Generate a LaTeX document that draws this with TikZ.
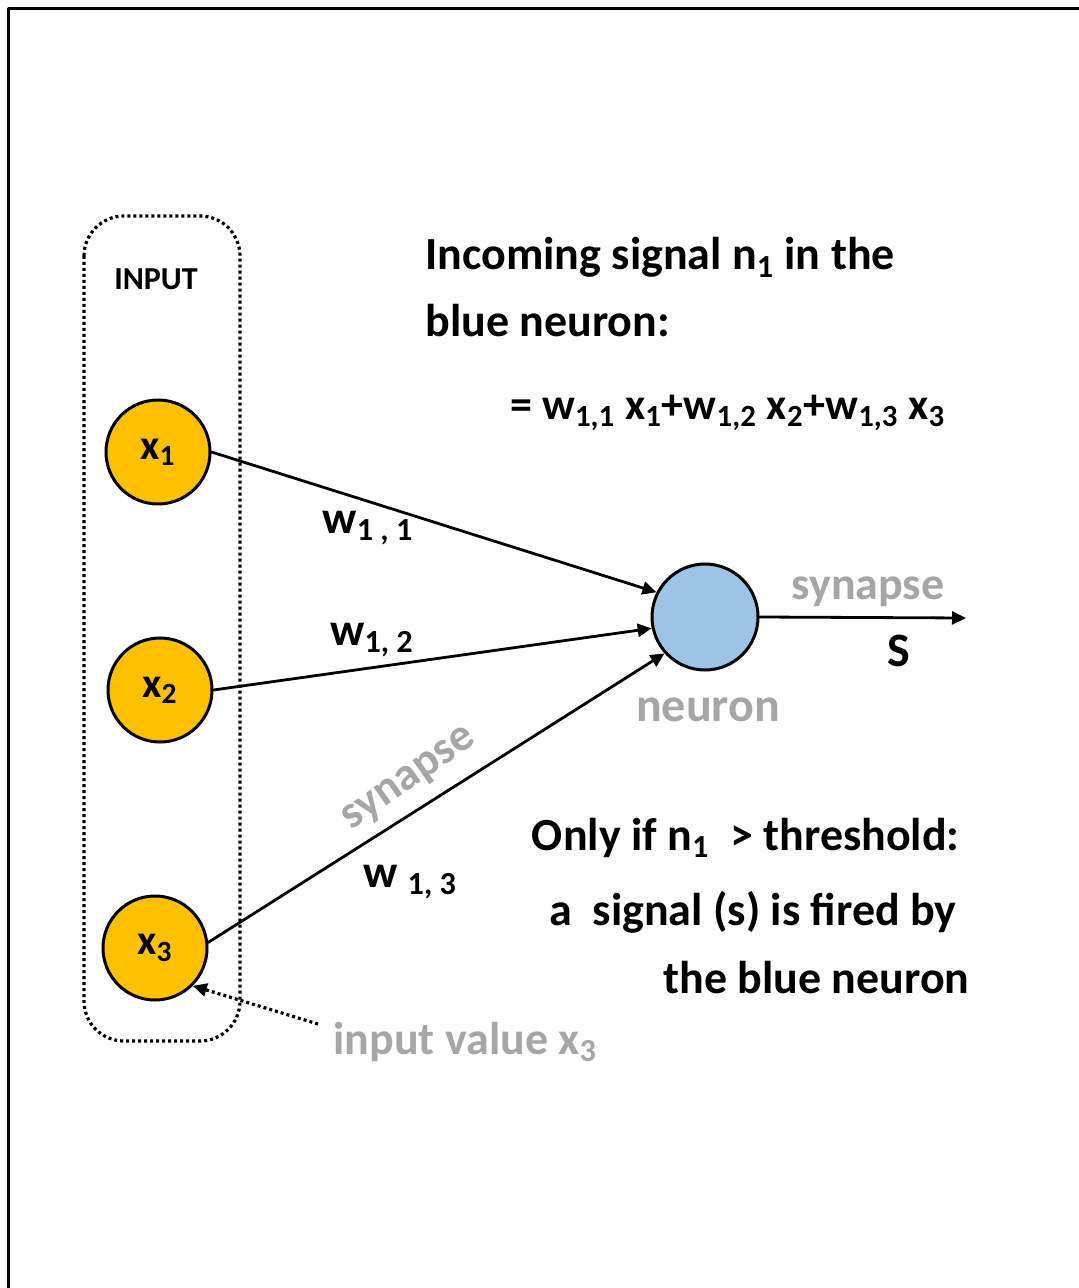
\documentclass[tikz,border=0pt]{standalone}
\usepackage{fontspec}
\setmainfont{Carlito}
\usetikzlibrary{arrows.meta}
\definecolor{inorange}{HTML}{FFC000}
\definecolor{neublue}{HTML}{9DC3E6}
\definecolor{softgray}{HTML}{A6A6A6}
\begin{document}
\begin{tikzpicture}[x=0.5pt,y=-0.5pt,line cap=round,line join=round,>={Triangle[length=7pt,width=6.5pt]},
	inp/.style={circle,draw,line width=1.5pt,fill=inorange,minimum size=52pt,inner sep=0pt,font=\fontsize{21}{25}\selectfont\bfseries},
	neu/.style={circle,draw,line width=1.5pt,fill=neublue,minimum size=53pt,inner sep=0pt},
	syn/.style={line width=1.4pt,->},
	dots/.style={line width=1.6pt,line cap=butt,dash pattern=on 1.5pt off 1.5pt},
	big/.style={font=\fontsize{23}{28}\selectfont\bfseries,inner sep=0pt},
	wt/.style={font=\fontsize{23}{28}\selectfont\bfseries,inner sep=0pt},
	gr/.style={text=softgray,font=\fontsize{23}{28}\selectfont\bfseries,inner sep=0pt}]
	\useasboundingbox (0,0) rectangle (1078,1288);
	\draw[line width=1.5pt,line cap=butt] (8,1300)--(8,9)--(1090,9);
	\draw[dots,rounded corners=20pt] (84,216) rectangle (240,1041);
	\node[font=\fontsize{16}{19}\selectfont\bfseries] (inlabel) at (156,279) {INPUT};
	\node[inp] (x1) at (158,452) {x\textsubscript{1}};
	\node[inp] (x2) at (160,690) {x\textsubscript{2}};
	\node[inp] (x3) at (155,948) {x\textsubscript{3}};
	\node[neu] (neuron) at (705,617) {};
	\coordinate (out) at (966,618);
	\coordinate (ivtail) at (318,1024);
	\draw[syn] (x1.east)--(neuron.153);
	\draw[syn] (x2.east)--(neuron.192);
	\draw[syn] (x3.6)--(neuron.222);
	\draw[syn] (neuron.east)--(out);
	\draw[dots,->] (ivtail)--(x3.-45);
	\node[wt] (w11) at (368,528) {w\textsubscript{1 , 1}};
	\node[wt] (w12) at (372,640) {w\textsubscript{1, 2}};
	\node[wt] (w13) at (410,882) {w \textsubscript{1, 3}};
	\node[gr,rotate=35] (syn3) at (410,780) {synapse};
	\node[gr] (synout) at (868,592) {synapse};
	\node[wt,font=\fontsize{24}{28}\selectfont\bfseries] (s) at (899,651) {S};
	\node[gr,font=\fontsize{24}{28}\selectfont\bfseries] (neulabel) at (708,710) {neuron};
	\node[gr,anchor=west] (ival) at (333,1042) {input value x\textsubscript{3}};
	\node[big,anchor=base west] (l1) at (425,270) {Incoming signal n\textsubscript{1} in the};
	\node[big,anchor=base west] (l2) at (425,337) {blue neuron:};
	\node[big,anchor=base west,font=\fontsize{22}{26}\selectfont\bfseries] (l3) at (510,420) {= w\textsubscript{1,1} x\textsubscript{1}+w\textsubscript{1,2} x\textsubscript{2}+w\textsubscript{1,3} x\textsubscript{3}};
	\node[big,anchor=base east] (l4) at (960,850) {Only if n\textsubscript{1}~ > threshold:};
	\node[big,anchor=base east] (l5) at (957,925) {a~ signal (s) is fired by};
	\node[big,anchor=base east] (l6) at (970,993) {the blue neuron};
\end{tikzpicture}
\end{document}
